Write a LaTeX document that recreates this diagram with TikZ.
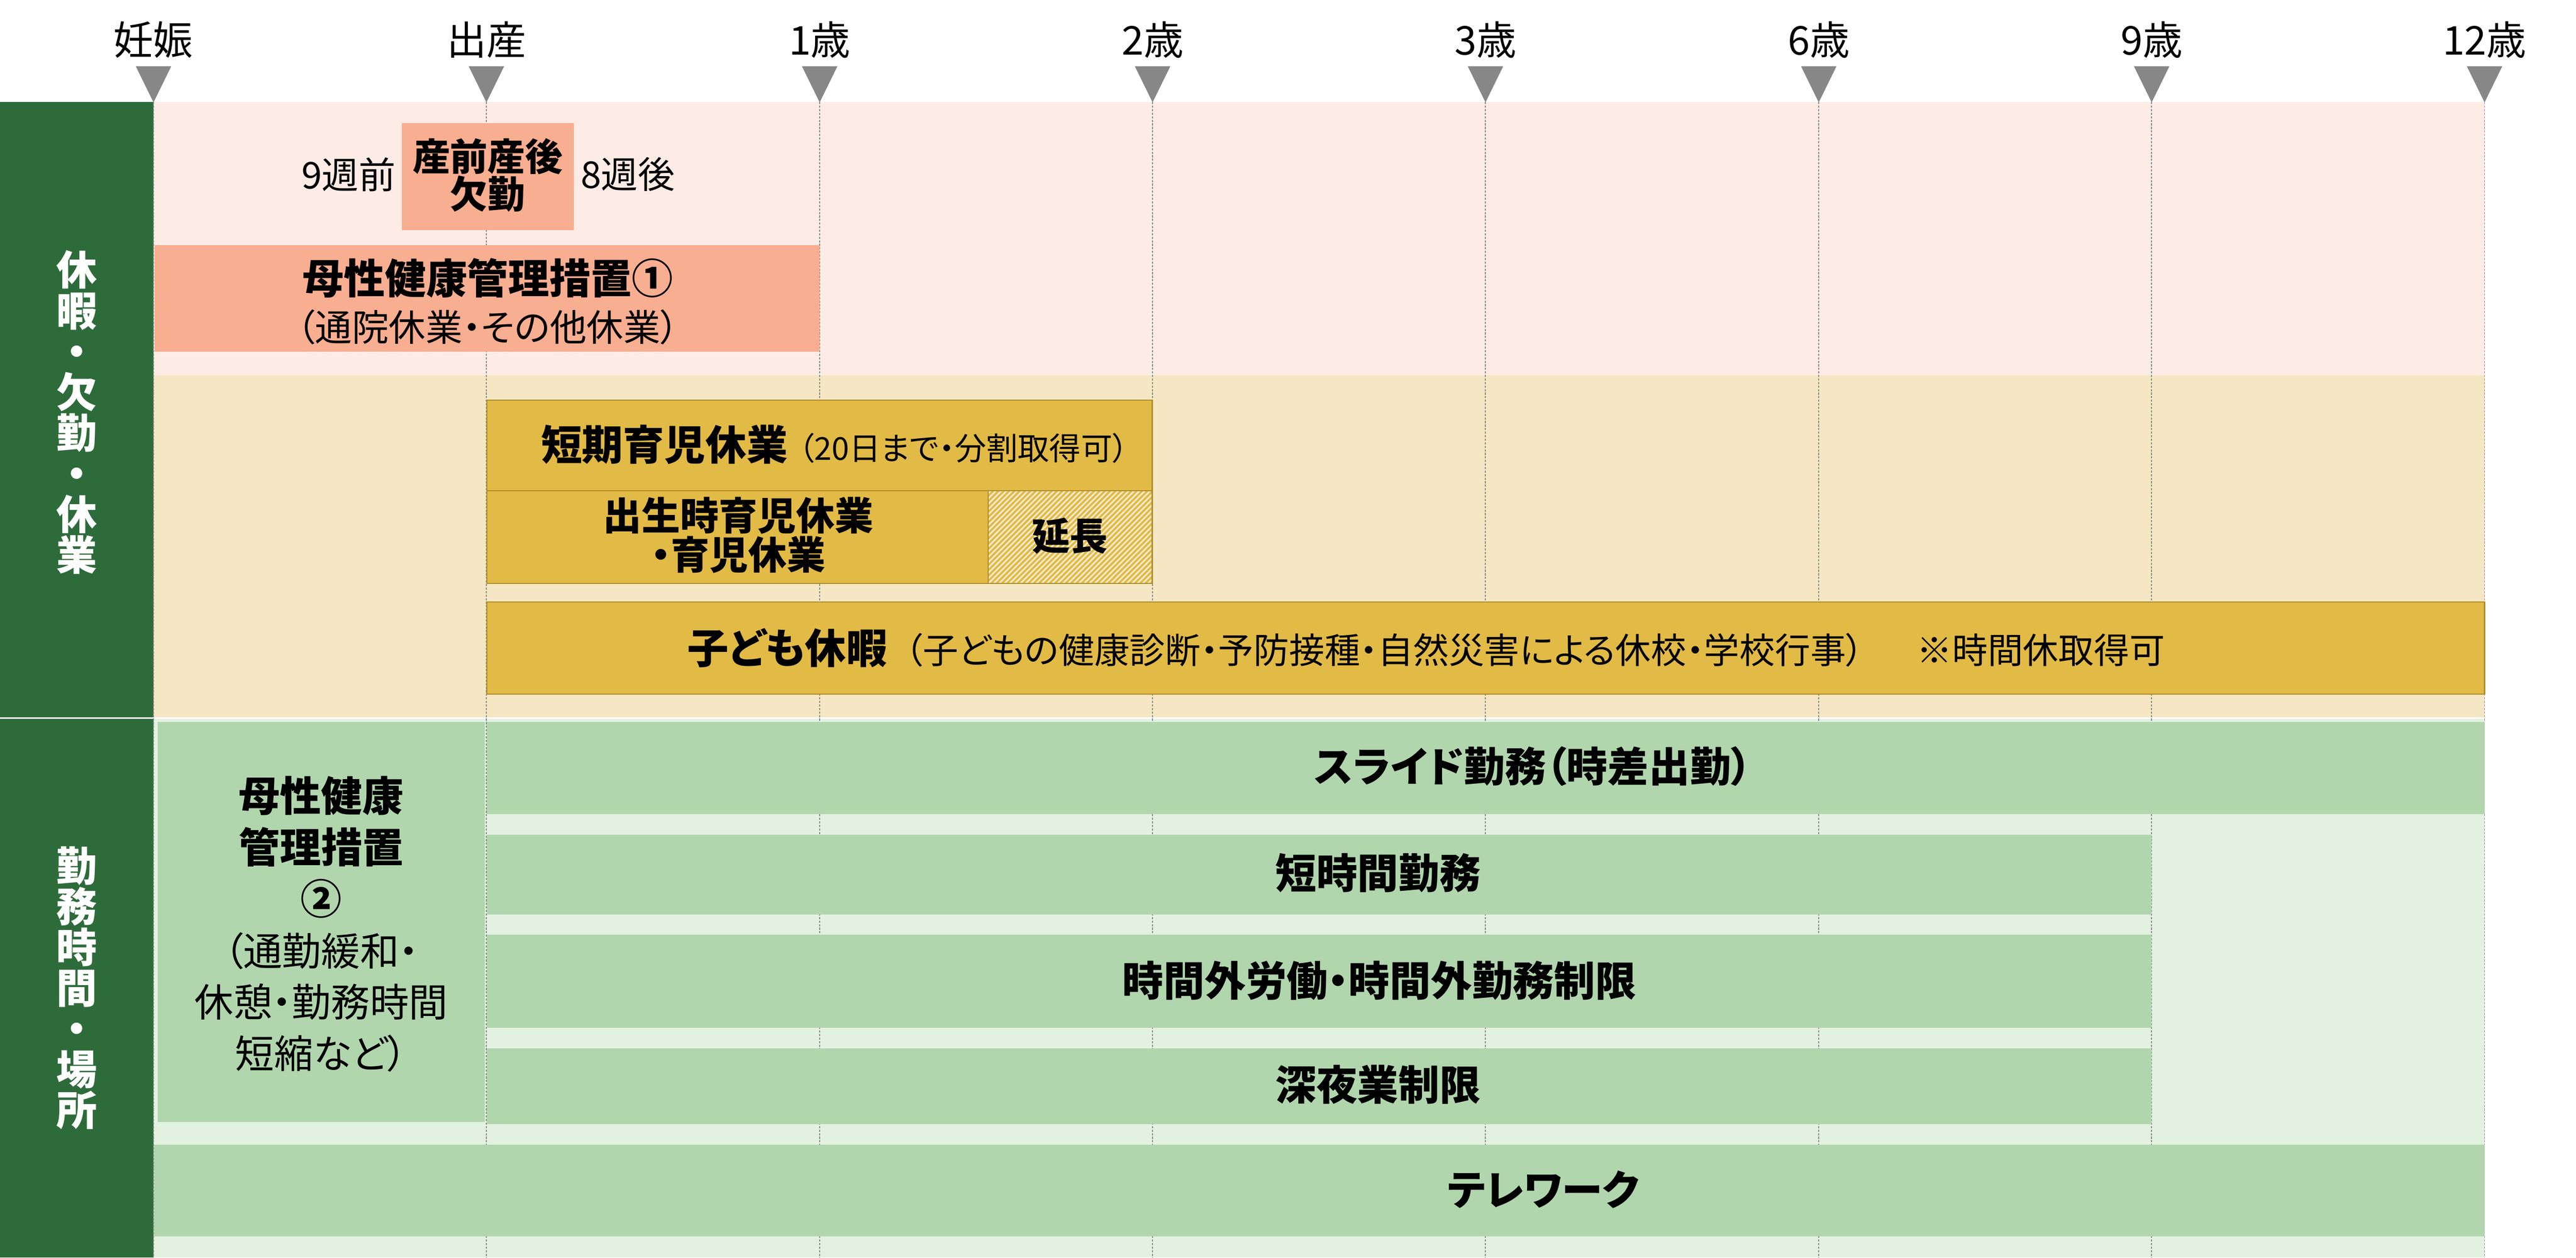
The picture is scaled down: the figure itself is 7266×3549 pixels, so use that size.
\documentclass[tikz,border=0pt]{standalone}
\usepackage{fontspec}
\setmainfont{Noto Sans CJK JP}[RawFeature=+palt]
\usepackage{xcolor}
\usepackage{tikz}
\usetikzlibrary{calc}
\usetikzlibrary{positioning}
\definecolor{sidegreen}{HTML}{2E6B3A}
\definecolor{pinkbg}{HTML}{FDECE6}
\definecolor{salmon}{HTML}{F8AE90}
\definecolor{beigebg}{HTML}{F5E7C3}
\definecolor{gold}{HTML}{E2BA46}
\definecolor{goldline}{HTML}{B08C2A}
\definecolor{greenbg}{HTML}{E3F1E1}
\definecolor{greenbox}{HTML}{B1D6AD}
\definecolor{tickgray}{HTML}{878787}
\tikzstyle{gridline} = [draw=tickgray, line width=0.25pt, dash pattern=on 0.6pt off 0.4pt]
\tikzstyle{goldbox} = [fill=gold, draw=goldline, line width=0.3pt]
\tikzstyle{toplab} = [inner sep=0, font=\fontsize{11.2}{11.2}\selectfont]
\tikzstyle{sidelab} = [inner sep=0, text=white, align=center, font=\bfseries\fontsize{11.5}{11.5}\selectfont]
\tikzstyle{boldlab} = [inner sep=0, align=center, font=\bfseries\fontsize{11.6}{13.3}\selectfont]
\tikzstyle{normlab} = [inner sep=0, align=center, font=\fontsize{10.4}{13.3}\selectfont]

\begin{document}
\begin{tikzpicture}[x=0.1pt, y=-0.1pt]
\useasboundingbox (0,0) rectangle (7266,3549);
% backgrounds
\fill [sidegreen] (0,288) rectangle (433,3549);
\fill [pinkbg] (433,288) rectangle (7008,1059);
\fill [beigebg] (433,1059) rectangle (7008,2025);
\fill [greenbg] (433,2029) rectangle (7008,3549);
\draw [white, line width=0.45pt] (0,2027) -- (7008,2027);
\foreach \x in {433,1372,2312,3251,4190,5130,6069,7008}
  \draw [gridline] (\x,288) -- (\x,3549);
% leave
\fill [salmon] (1133,347) rectangle (1619,650);
\fill [salmon] (436,691) rectangle (2312,993);
\draw [goldbox] (1373,1129) rectangle (3250,1385);
\draw [goldbox] (1373,1385) rectangle (2787,1647);
\begin{scope}
  \clip (2787,1385) rectangle (3250,1647);
  \fill [beigebg!70!white] (2787,1385) rectangle (3250,1647);
  \foreach \k in {0,...,49}
    \draw [gold, line width=0.6pt] (2525+\k*15,1647) -- ++(262,-262);
\end{scope}
\draw [goldline, line width=0.3pt] (2787,1385) rectangle (3250,1647);
\draw [goldbox] (1373,1699) rectangle (7008,1959);
% working time
\fill [greenbox] (445,2037) rectangle (1368,3167);
\fill [greenbox] (1373,2037) rectangle (7008,2298);
\fill [greenbox] (1373,2356) rectangle (6069,2581);
\fill [greenbox] (1373,2638) rectangle (6069,2901);
\fill [greenbox] (1373,2958) rectangle (6069,3172);
\fill [greenbox] (435,3230) rectangle (7008,3489);
% timeline
\foreach \x/\t [count=\i] in {433/妊娠,1372/出産,2312/1歳,3251/2歳,4190/3歳,5130/6歳,6069/9歳,7008/12歳}{
  \fill [tickgray] (\x-50,187) -- (\x+50,187) -- (\x,289) -- cycle;
  \node [toplab] (age\i) at (\x,112) {\t};
}
\node [sidelab] (kyuka) at (216,1164) {休\\暇\\・\\欠\\勤\\・\\休\\業};
\node [sidelab] (kinmu) at (216,2788) {勤\\務\\時\\間\\・\\場\\所};
\node [boldlab, font=\bfseries\fontsize{10.6}{10.6}\selectfont] (sanzen) at (1376,494) {産前産後\\欠勤};
\node [normlab, anchor=east] (mae) at (1118,492) {9週前};
\node [normlab, anchor=west] (ato) at (1636,492) {8週後};
\node [normlab] (bosei1) at (1376,851) {{\bfseries\fontsize{11.6}{13.3}\selectfont 母性健康管理措置①}\\（通院休業・その他休業）};
\node [anchor=west, inner sep=0] (tanki) at (1524,1254) {{\bfseries\fontsize{11.6}{13}\selectfont 短期育児休業}\hspace{3pt}{\fontsize{8.9}{10}\selectfont （20日まで・分割取得可）}};
\node [boldlab, font=\bfseries\fontsize{10.9}{11.1}\selectfont] (ikukyu) at (2083,1510) {出生時育児休業\\・育児休業};
\node [boldlab, font=\bfseries\fontsize{10.7}{11}\selectfont] (encho) at (3018,1512) {延長};
\node [anchor=west, inner sep=0] (kodomo) at (1938,1829) {{\bfseries\fontsize{11.6}{13}\selectfont 子ども休暇}\hspace{5pt}{\fontsize{10}{13}\selectfont （子どもの健康診断・予防接種・自然災害による休校・学校行事）\hspace{15pt}※時間休取得可}};
\node [normlab, font=\fontsize{11}{14.5}\selectfont] (bosei2) at (906,2608) {{\bfseries\fontsize{11.6}{14.5}\selectfont 母性健康}\\{\bfseries\fontsize{11.6}{14.5}\selectfont 管理措置}\\{\bfseries\fontsize{11.6}{14.5}\selectfont ②}\\（通勤緩和・\\休憩・勤務時間\\短縮など）};
\node [boldlab] (slide) at (4324,2163) {スライド勤務（時差出勤）};
\node [boldlab] (tanjikan) at (3887,2464) {短時間勤務};
\node [boldlab] (jikangai) at (3891,2767) {時間外労働・時間外勤務制限};
\node [boldlab] (shinya) at (3887,3061) {深夜業制限};
\node [boldlab] (tele) at (4353,3357) {テレワーク};
\end{tikzpicture}
\end{document}
